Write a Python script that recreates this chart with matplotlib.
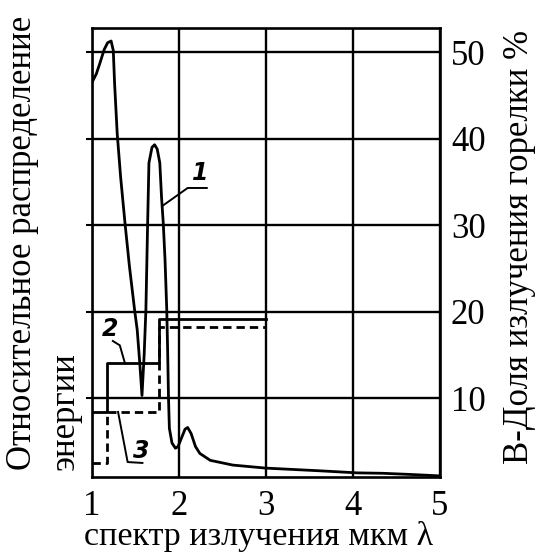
import numpy as np
import matplotlib
matplotlib.use("Agg")
import matplotlib.pyplot as plt

# ---------------- Data ----------------
# curve 1: spectral energy distribution
wl_1 = [1.00, 1.05, 1.09, 1.14, 1.18, 1.22, 1.245, 1.26, 1.29, 1.33, 1.38, 1.43,
        1.49, 1.52, 1.55, 1.575, 1.60, 1.62, 1.64, 1.655, 1.69, 1.72, 1.75, 1.78,
        1.80, 1.82, 1.84, 1.86, 1.87, 1.88, 1.89, 1.92, 1.96, 1.99, 2.03, 2.07,
        2.10, 2.14, 2.19, 2.24, 2.36, 2.62, 3.00, 3.60, 4.05, 4.35, 4.70, 5.00]
en_1 = [46.5, 47.5, 48.7, 50.3, 51.1, 51.3, 50.2, 46.4, 40.6, 35.5, 30.2, 25.3,
        20.2, 17.9, 14.0, 10.3, 15.0, 20.2, 30.2, 37.2, 39.0, 39.3, 38.8, 37.2,
        33.2, 30.2, 26.0, 20.2, 15.5, 10.0, 6.5, 4.8, 4.2, 4.4, 5.4, 6.4,
        6.6, 5.9, 4.4, 3.6, 2.8, 2.25, 1.9, 1.6, 1.35, 1.3, 1.15, 1.0]

# curve 2: burner radiation share, solid steps
wl_2 = [1.0, 1.17, 1.17, 1.77, 1.77, 3.0]
sh_2 = [8.4, 8.4, 14.0, 14.0, 19.1, 19.1]

# curve 3: burner radiation share, dashed steps
wl_3 = [1.0, 1.17, 1.17, 1.77, 1.77, 3.0]
sh_3 = [2.5, 2.5, 8.4, 8.4, 18.2, 18.2]

x_ticks = [1, 2, 3, 4, 5]
y_ticks = [10, 20, 30, 40, 50]

# ---------------- Plot ----------------
plt.rcParams["font.family"] = ["Liberation Serif", "DejaVu Serif"]

fig = plt.figure(figsize=(5.36, 5.55), dpi=100)
ax = fig.add_axes([0.1716, 0.1405, 0.649, 0.809])

ax.plot(wl_1, en_1, color="black", lw=2.0, solid_joinstyle="round")
ax.plot(wl_2, sh_2, color="black", lw=2.0)
ax.plot(wl_3, sh_3, color="black", lw=2.0, dashes=(3, 1.8))

ax.set_xlim(1, 5.0)
ax.set_ylim(0.87, 52.8)
ax.set_xticks(x_ticks)
ax.set_yticks(y_ticks)
ax.grid(True, color="black", lw=1.7)
for s in ax.spines.values():
    s.set_linewidth(1.9)

ax.tick_params(axis="x", length=0, pad=9, labelsize=25)
ax.tick_params(axis="y", left=True, right=False, labelleft=False,
               labelright=True, length=4, width=1.5, direction="out",
               pad=4, labelsize=25)

# curve labels with leader lines
lab = dict(fontsize=17, fontstyle="italic", fontweight="bold",
           family="DejaVu Sans", ha="center", va="center")
ax.text(2.24, 36.0, "1", **lab)
ax.plot([1.82, 2.10, 2.32], [32.3, 34.3, 34.3], color="black", lw=1.4)
ax.text(1.21, 18.0, "2", **lab)
ax.plot([1.24, 1.32, 1.38], [16.6, 16.1, 14.0], color="black", lw=1.4)
ax.text(1.57, 3.9, "3", **lab)
ax.plot([1.30, 1.41, 1.58], [8.4, 2.6, 2.5], color="black", lw=1.4)

fig.text(0.482, 0.018, "спектр излучения мкм λ", ha="center",
         va="baseline", fontsize=24.5)

fig.text(0.082, 0.153, "Относительное распределение\nэнергии", rotation=90,
         ha="center", va="bottom", multialignment="left", fontsize=25,
         linespacing=1.4)
fig.text(0.970, 0.555, "В-Доля излучения горелки %", rotation=90,
         ha="center", va="center", fontsize=25)

fig.savefig("out.png", dpi=100)
